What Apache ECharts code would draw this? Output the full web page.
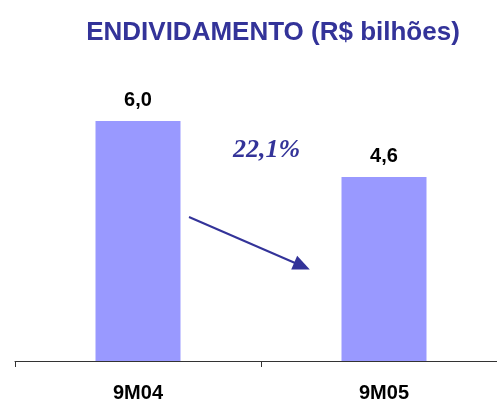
<!DOCTYPE html>
<html>
<head>
<meta charset="utf-8">
<script src="https://cdn.jsdelivr.net/npm/echarts@6/dist/echarts.min.js"></script>
<style>
  html, body { margin: 0; padding: 0; background: #fff; }
  #chart { width: 497px; height: 401px; }
</style>
</head>
<body>
<div id="chart"></div>
<script>
const categories = ['9M04', '9M05'];
const values = [6.0, 4.6];
const valueLabels = ['6,0', '4,6'];
const changeText = '22,1%';

const chart = echarts.init(document.getElementById('chart'));

const option = {
  animation: false,
  title: {
    text: 'ENDIVIDAMENTO (R$ bilhões)',
    left: 268,
    top: 15,
    textAlign: 'center',
    textStyle: {
      fontFamily: 'Liberation Sans',
      fontWeight: 'bold',
      fontSize: 26,
      color: '#333399'
    }
  },
  grid: { left: 15, width: 492, top: 121, bottom: 40, outerBoundsMode: 'none', containLabel: false },
  xAxis: {
    type: 'category',
    data: categories,
    axisLine: { lineStyle: { color: '#333', width: 1 } },
    axisTick: { show: true, length: 6, lineStyle: { color: '#333' } },
    axisLabel: {
      margin: 22,
      fontFamily: 'Liberation Sans',
      fontWeight: 'bold',
      fontSize: 20,
      color: '#000'
    }
  },
  yAxis: {
    type: 'value',
    min: 0,
    max: 6,
    show: false,
    splitLine: { show: false }
  },
  series: [{
    type: 'bar',
    data: values,
    barWidth: 85,
    itemStyle: { color: '#9999ff' },
    label: {
      show: true,
      position: 'top',
      distance: 11,
      fontFamily: 'Liberation Sans',
      fontWeight: 'bold',
      fontSize: 20,
      color: '#000',
      formatter: p => valueLabels[p.dataIndex]
    },
    markLine: {
      silent: true,
      symbol: ['none', 'triangle'],
      symbolSize: [15, 17],
      label: { show: false },
      lineStyle: { color: '#333399', width: 2, type: 'solid' },
      data: [[{ x: 189, y: 217 }, { x: 302, y: 266 }]]
    }
  }],
  graphic: [{
    type: 'text',
    left: 233,
    top: 137,
    style: {
      text: changeText,
      font: 'italic bold 26px "Liberation Serif"',
      fill: '#333399'
    }
  }]
};

chart.setOption(option);
</script>
</body>
</html>
